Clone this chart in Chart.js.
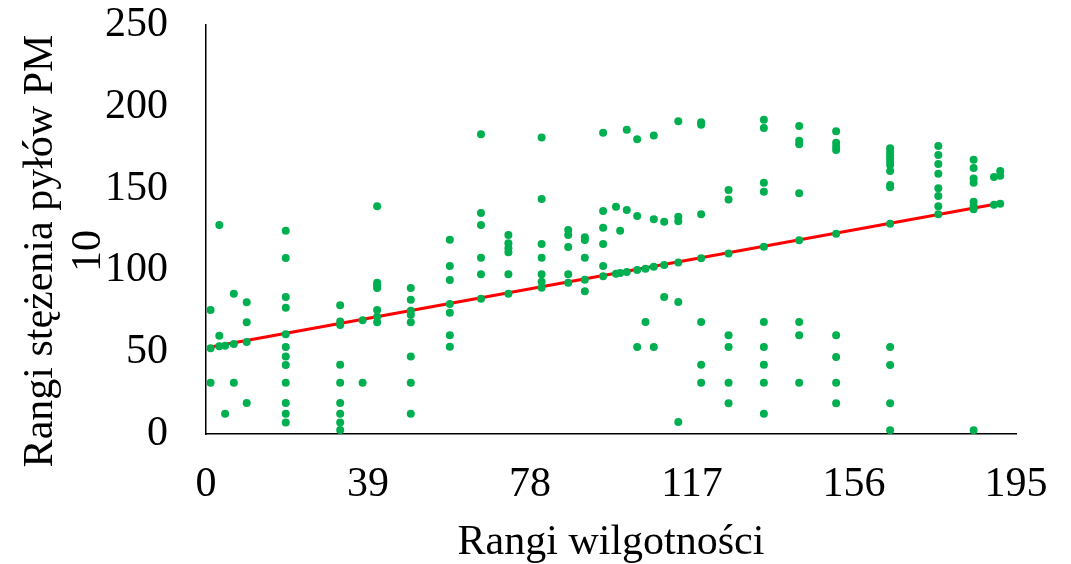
<!DOCTYPE html>
<html lang="pl">
<head>
<meta charset="utf-8">
<title>Rangi wilgotności a rangi stężenia pyłów PM10</title>
<script src="https://cdn.jsdelivr.net/npm/chart.js@4"></script>
<style>
  html, body { margin: 0; padding: 0; background: #fff; }
  #wrap { width: 1071px; height: 564px; }
</style>
</head>
<body>
<div id="wrap"><canvas id="wykres" width="1071" height="564"></canvas></div>
<script>
// rangi wilgotności (oś X) i odpowiadające im rangi PM10 (oś Y), kolumnami
const rankHumidity = [1.1, 3.2, 4.6, 6.7, 9.8, 19.2, 32.3, 37.7, 41.2, 49.3, 58.7, 66.2, 72.8, 80.8, 87.2, 91.2,
  95.6, 98.7, 99.7, 101.3, 103.8, 105.8, 107.8, 110.3, 113.7, 119.2, 125.8, 134.3, 142.8, 151.7, 164.7, 176.3,
  184.8, 189.7, 191.2];
const rankPM10 = [
  [75.8, 52.4, 31.4],
  [127.7, 60.1, 53.6],
  [54, 12.4],
  [85.8, 55, 31.4],
  [80.5, 68.3, 56.2, 18.9],
  [124.3, 107.6, 83.7, 77.2, 60.9, 53.2, 47.3, 42.2, 31.4, 18.9, 12.4, 7.1],
  [78.7, 68.7, 66.6, 42.4, 31.4, 18.9, 12.4, 7.1, 2.4],
  [69.5, 31.4],
  [139.2, 92.5, 90.9, 89.2, 75.8, 71.7, 68.3],
  [89.2, 82.1, 75.4, 72.9, 68.3, 47.3, 31.4, 12.4],
  [118.8, 102.7, 94.1, 79.5, 74.1, 60.3, 53.4],
  [183.2, 135.1, 127.8, 107.8, 97.6, 82.7],
  [121.6, 116.6, 113.5, 111.1, 97.6, 85.8],
  [181.2, 143.6, 116.1, 107.8, 97.6, 93.1, 89.4],
  [124.7, 121.6, 114.3, 97.6, 92.5],
  [120.2, 118.6, 107.8, 94.3, 87.2],
  [184.2, 136.3, 126.1, 116.1, 102.7, 96.4],
  [138.9, 98],
  [124.3, 98.4],
  [186, 136.9, 99],
  [180.1, 133.3, 100.2, 53.2],
  [101, 68.5],
  [182.4, 131.2, 102.3, 53.2],
  [129.8, 103.3, 83.7],
  [191.1, 132.8, 130, 104.9, 80.7, 7.3],
  [190.5, 189.1, 134.3, 107.4, 68.5, 42.4, 31.4],
  [149.1, 143.4, 110.4, 60.3, 53.2, 31.4, 18.8],
  [192.1, 187, 153.6, 148.1, 114.5, 68.5, 53.2, 42.4, 31.4, 12.4],
  [188.3, 179.3, 177.1, 147.1, 118.4, 68.5, 60.3, 31.4],
  [185, 178.1, 175.6, 173.6, 122.4, 60.3, 47.1, 31.4, 18.8],
  [174.6, 172.6, 170.5, 168.5, 166.5, 164.4, 160.8, 152.2, 150.8, 128.5, 53.2, 42.2, 18.8, 2.3],
  [176, 170.5, 165, 159.1, 150.2, 145.5, 139.2, 134.3],
  [167.7, 162.6, 156.1, 153.6, 142, 139.4, 137.4, 2.3],
  [157.1, 140.2],
  [160.8, 157.9, 140.8]
];

// linia trendu (początek i koniec)
const trendX = [1.1, 191.2];
const trendY = [53.2, 141.0];

const xTicks = [0, 39, 78, 117, 156, 195];
const yTicks = [0, 50, 100, 150, 200, 250];

const xTitle = 'Rangi wilgotności';
const yTitle = ['Rangi stężenia pyłów PM', '10'];

const points = rankHumidity.flatMap((x, i) => rankPM10[i].map(y => ({ x: x, y: y })));
const trend = trendX.map((x, i) => ({ x: x, y: trendY[i] }));

const FONT = '"Liberation Serif", "Times New Roman", serif';
const FONT_SIZE = 42;

// podpisy osi rysowane ręcznie, żeby ustawić je dokładnie
const axisTitles = {
  id: 'axisTitles',
  afterDraw(chart) {
    const { ctx, chartArea } = chart;
    ctx.save();
    ctx.font = FONT_SIZE + 'px ' + FONT;
    ctx.fillStyle = '#000';
    ctx.textAlign = 'center';
    ctx.textBaseline = 'alphabetic';
    ctx.fillText(xTitle, (chartArea.left + chartArea.right) / 2, 554);
    ctx.translate(0, 251);
    ctx.rotate(-Math.PI / 2);
    yTitle.forEach((line, i) => ctx.fillText(line, 0, 52 + i * 48));
    ctx.restore();
  }
};

const ctx = document.getElementById('wykres').getContext('2d');

new Chart(ctx, {
  type: 'scatter',
  data: {
    datasets: [
      {
        label: 'PM10',
        data: points,
        backgroundColor: '#00B050',
        borderColor: '#00B050',
        pointRadius: 4,
        pointBorderWidth: 0,
        order: 0
      },
      {
        type: 'line',
        label: 'trend',
        data: trend,
        borderColor: '#FF0000',
        borderWidth: 3,
        pointRadius: 0,
        fill: false,
        order: 1
      }
    ]
  },
  options: {
    responsive: false,
    animation: false,
    layout: { padding: { top: 25, right: 55, left: 0, bottom: 0 } },
    plugins: {
      legend: { display: false },
      tooltip: { enabled: false }
    },
    scales: {
      x: {
        type: 'linear',
        min: 0,
        max: 195,
        afterFit(scale) {
          scale.height = 130;
          scale.paddingLeft = 0;
          scale.paddingRight = 0;
        },
        afterBuildTicks(scale) { scale.ticks = xTicks.map(v => ({ value: v })); },
        grid: { display: false, drawTicks: false },
        border: { display: true, color: '#000', width: 1.5 },
        ticks: { color: '#000', font: { family: FONT, size: FONT_SIZE }, padding: 26, maxRotation: 0 }
      },
      y: {
        type: 'linear',
        min: 0,
        max: 250,
        afterFit(scale) {
          scale.width = 206;
          scale.paddingTop = 0;
          scale.paddingBottom = 0;
        },
        afterBuildTicks(scale) { scale.ticks = yTicks.map(v => ({ value: v })); },
        grid: { display: false, drawTicks: false },
        border: { display: true, color: '#000', width: 1.5 },
        ticks: { color: '#000', font: { family: FONT, size: FONT_SIZE }, padding: 38 }
      }
    }
  },
  plugins: [axisTitles]
});
</script>
</body>
</html>
